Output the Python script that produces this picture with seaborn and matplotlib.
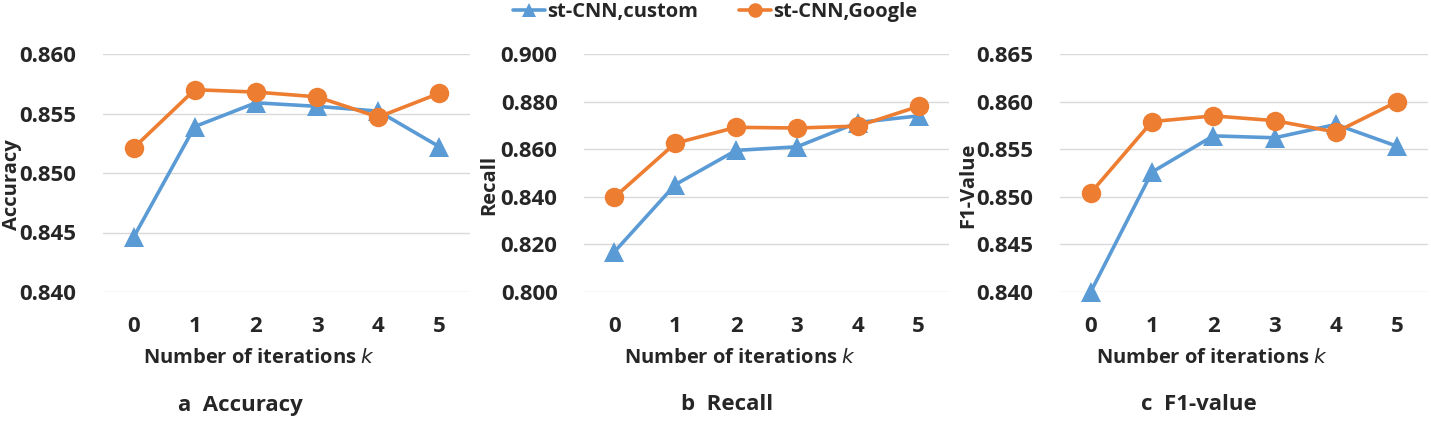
import numpy as np
import pandas as pd
import matplotlib
matplotlib.use("Agg")
import matplotlib.pyplot as plt
import seaborn as sns

# -----------------------------
# DATA
# -----------------------------

iterations = [0, 1, 2, 3, 4, 5]
series_names = ["st-CNN,custom", "st-CNN,Google"]

accuracy_custom = [0.8446, 0.8539, 0.8559, 0.8556, 0.8552, 0.8522]
accuracy_google = [0.8521, 0.8570, 0.8568, 0.8564, 0.8547, 0.8567]

recall_custom = [0.8169, 0.8451, 0.8595, 0.8610, 0.8712, 0.8740]
recall_google = [0.8398, 0.8625, 0.8692, 0.8689, 0.8697, 0.8780]

f1_custom = [0.8400, 0.8526, 0.8564, 0.8562, 0.8576, 0.8553]
f1_google = [0.8504, 0.8579, 0.8585, 0.8580, 0.8568, 0.8600]

panel_ylabels = ["Accuracy", "Recall", "F1-Value"]
panel_captions = ["a  Accuracy", "b  Recall", "c  F1-value"]
panel_yticks = [
    [0.840, 0.845, 0.850, 0.855, 0.860],
    [0.800, 0.820, 0.840, 0.860, 0.880, 0.900],
    [0.840, 0.845, 0.850, 0.855, 0.860, 0.865],
]

# -----------------------------
# STYLE
# -----------------------------

sns.set_theme(style="white")
plt.rcParams["font.family"] = ["Open Sans", "DejaVu Sans"]

BLUE = "#5B9BD5"
ORANGE = "#ED7D31"
palette = {series_names[0]: BLUE, series_names[1]: ORANGE}
markers = {series_names[0]: "^", series_names[1]: "o"}

W, H = 1431, 421
fig = plt.figure(figsize=(W / 100, H / 100), dpi=100)

# pixel boxes of the plot areas: (left, right, top, bottom)
boxes = [(103, 470, 54, 292), (584, 949, 54, 292), (1060, 1428, 54, 292)]
xlabel_x = [259, 740, 1212]
caption_x = [240, 727, 1199]
ylabel_x = [12, 489, 968]


def make_frame(custom, google):
    return pd.DataFrame({
        "k": iterations * 2,
        "value": list(custom) + list(google),
        "model": [series_names[0]] * len(custom) + [series_names[1]] * len(google),
    })


frames = [
    make_frame(accuracy_custom, accuracy_google),
    make_frame(recall_custom, recall_google),
    make_frame(f1_custom, f1_google),
]

for i, df in enumerate(frames):
    l, r, t, b = boxes[i]
    ax = fig.add_axes([l / W, 1 - b / H, (r - l) / W, (b - t) / H])

    sns.lineplot(
        data=df, x="k", y="value", hue="model", style="model",
        palette=palette, markers=markers, dashes=False,
        linewidth=2.6, markersize=14, markeredgewidth=0,
        ax=ax, legend=(i == 1), clip_on=False,
    )

    yt = panel_yticks[i]
    ax.set_ylim(yt[0], yt[-1])
    ax.set_yticks(yt)
    ax.set_yticklabels([f"{v:.3f}" for v in yt], fontsize=16, fontweight="bold")
    ax.set_xlim(-0.5, 5.5)
    ax.set_xticks(iterations)
    ax.set_xticklabels([str(v) for v in iterations], fontsize=16, fontweight="bold")
    ax.tick_params(axis="y", pad=19, length=0)
    ax.tick_params(axis="x", pad=17, length=0)
    ax.grid(axis="y", color="#D9D9D9", linewidth=1)
    ax.set_axisbelow(True)
    for s in ax.spines.values():
        s.set_visible(False)
    ax.set_xlabel("")
    ax.set_ylabel("")

    fig.text(xlabel_x[i] / W, 1 - 358 / H, "Number of iterations $\\mathbf{\\it{k}}$",
             ha="center", va="center", fontsize=14.5, fontweight="bold")
    fig.text(caption_x[i] / W, 1 - 405 / H, panel_captions[i],
             ha="center", va="center", fontsize=16, fontweight="bold")
    fig.text(ylabel_x[i] / W, 1 - 185 / H, panel_ylabels[i],
             ha="center", va="center", rotation=90, fontsize=14.5, fontweight="bold")

    if i == 1:
        handles, labels = ax.get_legend_handles_labels()
        ax.get_legend().remove()
        fig.legend(handles, labels, loc="center", bbox_to_anchor=(715 / W, 1 - 12 / H),
                   ncol=2, frameon=False, prop={"size": 14.5, "weight": "bold"},
                   handlelength=1.6, handletextpad=0.1, columnspacing=2.0,
                   markerscale=0.75)

fig.savefig("out.png", dpi=100)
